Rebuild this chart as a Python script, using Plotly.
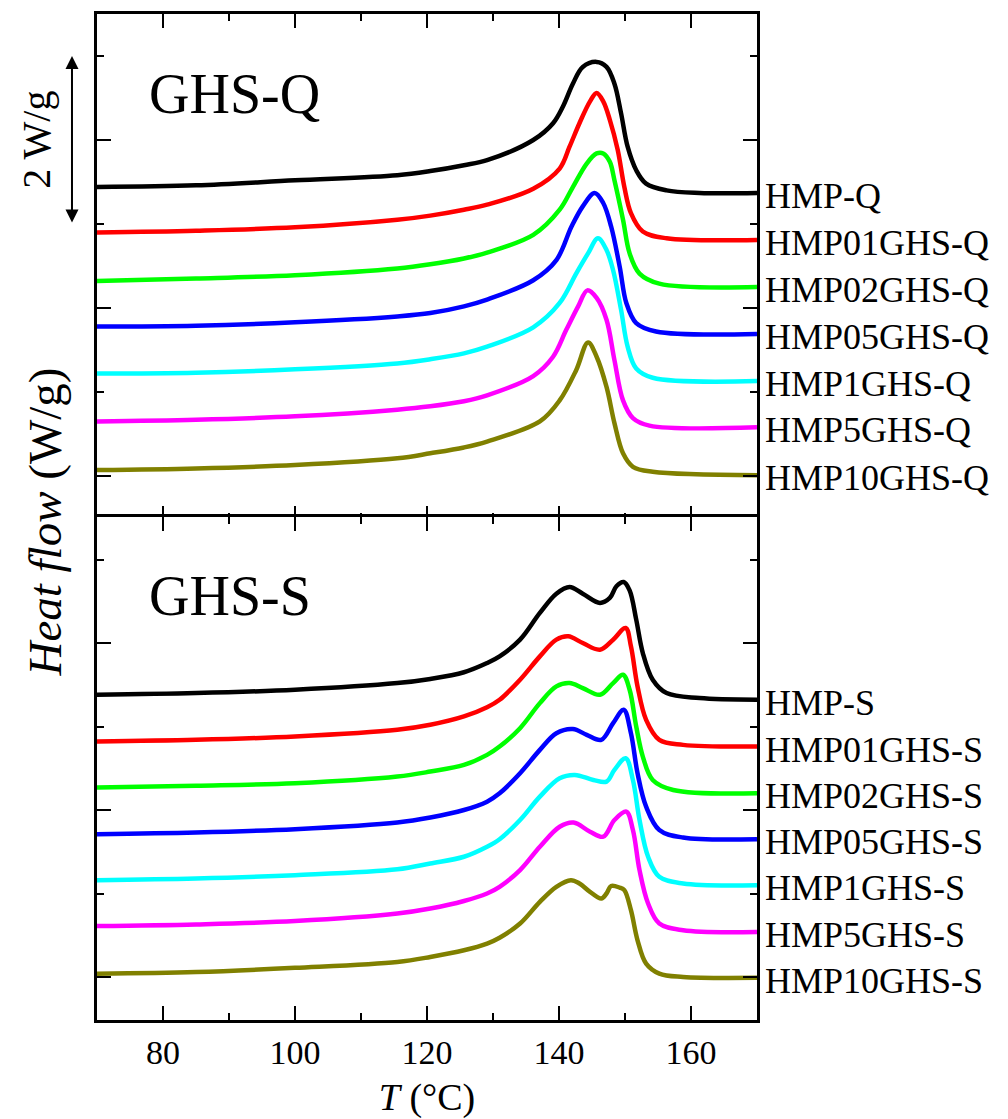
import plotly.graph_objects as go

FONT = "Liberation Serif"

# ---------------- data (heat flow, W/g, offset curves as plotted) ----------------
q_names = ["HMP-Q", "HMP01GHS-Q", "HMP02GHS-Q", "HMP05GHS-Q", "HMP1GHS-Q", "HMP5GHS-Q", "HMP10GHS-Q"]
s_names = ["HMP-S", "HMP01GHS-S", "HMP02GHS-S", "HMP05GHS-S", "HMP1GHS-S", "HMP5GHS-S", "HMP10GHS-S"]
colors = ["#000000", "#FF0000", "#00FF00", "#0000FF", "#00FFFF", "#FF00FF", "#808000"]

# GHS-Q panel
q0_T = [70, 85, 100, 115.5, 120.5, 125.6, 129.1, 136.1, 139.1, 140.6, 142.1, 143.6, 145.7, 147.2, 148.4, 149.4, 150.4, 151.7, 153.2, 156.3, 161.3, 170]
q0_V = [3.44, 3.46, 3.52, 3.58, 3.63, 3.70, 3.76, 4.00, 4.20, 4.40, 4.67, 4.87, 4.93, 4.87, 4.67, 4.32, 3.92, 3.64, 3.48, 3.40, 3.37, 3.37]
q1_T = [70, 85, 100, 115.5, 120.5, 125.6, 129.1, 136.1, 140.1, 141.6, 143.1, 144.7, 145.7, 146.7, 147.7, 148.9, 149.9, 150.9, 152.7, 156.3, 170]
q1_V = [2.90, 2.92, 2.96, 3.05, 3.10, 3.17, 3.23, 3.42, 3.66, 3.92, 4.20, 4.46, 4.56, 4.46, 4.24, 3.88, 3.44, 3.13, 2.91, 2.83, 2.81]
q2_T = [70, 85, 100, 115.5, 120.5, 125.6, 129.1, 136.1, 140.1, 142.1, 144.2, 145.7, 146.7, 147.7, 148.4, 149.7, 150.7, 152.2, 155.2, 170]
q2_V = [2.32, 2.35, 2.39, 2.47, 2.52, 2.59, 2.66, 2.87, 3.17, 3.44, 3.72, 3.84, 3.84, 3.74, 3.52, 3.05, 2.65, 2.41, 2.29, 2.25]
q3_T = [70, 85, 100, 115.5, 120.5, 125.6, 129.1, 136.1, 139.6, 141.9, 143.6, 145.4, 146.7, 147.9, 149.2, 150.2, 151.7, 154.7, 170]
q3_V = [1.78, 1.79, 1.83, 1.90, 1.94, 2.02, 2.10, 2.33, 2.57, 2.97, 3.21, 3.37, 3.25, 2.97, 2.49, 2.06, 1.82, 1.72, 1.69]
q4_T = [70, 85, 100, 115.5, 120.5, 125.6, 129.1, 136.1, 140.1, 142.6, 144.4, 145.9, 147.2, 148.2, 149.4, 150.4, 151.7, 154.2, 170]
q4_V = [1.22, 1.23, 1.27, 1.34, 1.39, 1.46, 1.54, 1.77, 2.06, 2.41, 2.65, 2.83, 2.69, 2.45, 1.98, 1.54, 1.28, 1.17, 1.13]
q5_T = [70, 85, 100, 115.5, 120.5, 125.6, 129.1, 136.1, 139.1, 141.1, 142.9, 144.3, 145.7, 147.2, 148.4, 149.7, 151.2, 153.7, 170]
q5_V = [0.65, 0.67, 0.71, 0.79, 0.83, 0.89, 0.96, 1.19, 1.42, 1.74, 2.02, 2.21, 2.12, 1.86, 1.38, 0.90, 0.69, 0.60, 0.58]
q6_T = [70, 85, 100, 115.5, 120.5, 125.6, 129.1, 137.1, 140.1, 142.6, 144.4, 145.7, 147.2, 148.4, 149.7, 151.2, 154.2, 170]
q6_V = [0.07, 0.09, 0.13, 0.21, 0.27, 0.34, 0.41, 0.65, 0.90, 1.26, 1.59, 1.42, 1.06, 0.63, 0.27, 0.11, 0.05, 0.01]

# GHS-S panel
s0_T = [70, 85, 100, 115.5, 120.5, 125.6, 129.1, 131.0, 134.1, 137.1, 139.6, 141.6, 143.6, 146.2, 147.7, 148.7, 149.8, 150.7, 151.7, 152.7, 154.2, 156.3, 161.3, 170]
s0_V = [3.38, 3.40, 3.44, 3.52, 3.57, 3.65, 3.76, 3.84, 4.04, 4.36, 4.59, 4.67, 4.59, 4.48, 4.54, 4.68, 4.73, 4.63, 4.28, 3.88, 3.56, 3.40, 3.34, 3.32]
s1_T = [70, 85, 100, 115.5, 120.5, 125.6, 129.1, 131.0, 134.1, 137.1, 139.6, 141.4, 143.6, 146.2, 148.2, 150.1, 150.9, 151.9, 153.2, 155.2, 158.8, 170]
s1_V = [2.82, 2.84, 2.88, 2.96, 3.02, 3.12, 3.23, 3.32, 3.56, 3.84, 4.04, 4.08, 4.00, 3.92, 4.04, 4.18, 3.96, 3.48, 3.08, 2.84, 2.78, 2.76]
s2_T = [70, 85, 100, 115.5, 120.5, 125.6, 129.1, 131.0, 134.1, 137.1, 139.6, 141.6, 143.6, 146.2, 148.2, 149.7, 150.7, 151.7, 152.7, 154.2, 157.3, 170]
s2_V = [2.27, 2.29, 2.32, 2.40, 2.46, 2.54, 2.66, 2.76, 2.98, 3.28, 3.48, 3.52, 3.46, 3.38, 3.52, 3.62, 3.44, 3.00, 2.64, 2.36, 2.24, 2.20]
s3_T = [70, 85, 100, 115.5, 120.5, 125.6, 129.1, 131.0, 134.1, 137.1, 139.6, 142.1, 144.2, 146.4, 148.2, 149.8, 150.9, 151.9, 153.2, 155.2, 158.8, 170]
s3_V = [1.71, 1.73, 1.77, 1.85, 1.91, 2.00, 2.10, 2.20, 2.44, 2.72, 2.92, 2.97, 2.90, 2.84, 3.04, 3.20, 2.92, 2.44, 2.04, 1.76, 1.67, 1.65]
s4_T = [70, 85, 100, 115.5, 120.5, 125.6, 129.1, 131.0, 134.1, 137.1, 140.1, 142.4, 145.2, 147.2, 148.4, 150.1, 151.2, 152.2, 153.5, 155.2, 158.8, 170]
s4_V = [1.16, 1.18, 1.22, 1.29, 1.36, 1.44, 1.56, 1.65, 1.88, 2.16, 2.38, 2.42, 2.36, 2.34, 2.48, 2.62, 2.36, 1.88, 1.44, 1.20, 1.12, 1.10]
s5_T = [70, 85, 100, 115.5, 120.5, 125.6, 129.1, 131.0, 134.1, 137.1, 140.1, 142.2, 144.7, 146.7, 148.4, 150.2, 151.2, 152.2, 153.5, 155.2, 158.8, 170]
s5_V = [0.61, 0.63, 0.67, 0.76, 0.82, 0.91, 1.00, 1.08, 1.28, 1.56, 1.80, 1.85, 1.74, 1.68, 1.88, 1.98, 1.76, 1.28, 0.88, 0.64, 0.56, 0.54]
s6_T = [70, 85, 100, 115.5, 120.5, 125.6, 129.1, 131.0, 134.1, 137.1, 139.6, 141.8, 143.1, 144.7, 146.4, 147.2, 147.9, 149.2, 149.9, 150.9, 151.9, 153.2, 155.2, 158.8, 170]
s6_V = [0.04, 0.06, 0.11, 0.18, 0.24, 0.32, 0.40, 0.47, 0.64, 0.90, 1.08, 1.16, 1.12, 1.02, 0.94, 1.00, 1.09, 1.07, 1.04, 0.80, 0.44, 0.16, 0.04, 0.00, -0.01]

q_T = [q0_T, q1_T, q2_T, q3_T, q4_T, q5_T, q6_T]
q_V = [q0_V, q1_V, q2_V, q3_V, q4_V, q5_V, q6_V]
s_T = [s0_T, s1_T, s2_T, s3_T, s4_T, s5_T, s6_T]
s_V = [s0_V, s1_V, s2_V, s3_V, s4_V, s5_V, s6_V]

x_ticks = [80, 100, 120, 140, 160]

# ---------------- figure ----------------
fig = go.Figure()
annotations = []

for Ts, Vs, names, xa, ya in [(q_T, q_V, q_names, "x", "y"), (s_T, s_V, s_names, "x2", "y2")]:
    for T, V, name, c in zip(Ts, Vs, names, colors):
        fig.add_trace(go.Scatter(x=T, y=V, mode="lines", name=name, xaxis=xa, yaxis=ya,
                                 line=dict(color=c, width=4.5, shape="spline", smoothing=1.0),
                                 showlegend=False, hoverinfo="skip"))
        annotations.append(dict(x=1, xref="paper", xanchor="left", xshift=6,
                                y=V[-1], yref=ya, yanchor="middle", yshift=-3,
                                text=name, showarrow=False,
                                font=dict(family=FONT, size=36, color="black")))

annotations += [
    dict(x=0.0758, xref="paper", xanchor="left", y=0.9205, yref="paper", yanchor="middle",
         text="GHS-Q", showarrow=False, font=dict(family=FONT, size=56, color="black")),
    dict(x=0.0758, xref="paper", xanchor="left", y=0.4215, yref="paper", yanchor="middle",
         text="GHS-S", showarrow=False, font=dict(family=FONT, size=56, color="black")),
    dict(x=-0.078, xref="paper", xanchor="center", y=0.495, yref="paper", yanchor="middle",
         text="<i>Heat flow</i> (W/g)", textangle=-90, showarrow=False,
         font=dict(family=FONT, size=47, color="black")),
    dict(x=-0.091, xref="paper", xanchor="center", y=0.875, yref="paper", yanchor="middle",
         text="2 W/g", textangle=-90, showarrow=False,
         font=dict(family=FONT, size=40, color="black")),
    dict(x=-0.0379, xref="paper", y=5, yref="y", ax=0, axref="pixel",
         ay=3, ayref="y", text="", showarrow=True, arrowside="end+start",
         arrowhead=2, arrowsize=1.3, arrowwidth=2, arrowcolor="black", standoff=0, startstandoff=0),
]

common_x = dict(range=[70, 170], showgrid=False, zeroline=False, showline=True, linewidth=2.5,
                linecolor="black", mirror="ticks", ticks="inside", ticklen=14, tickwidth=2,
                tickcolor="black", tickvals=x_ticks, automargin=False,
                minor=dict(ticks="inside", ticklen=7, tickwidth=2, tickcolor="black", dtick=10, tick0=70),
                tickfont=dict(family=FONT, size=34, color="black"))
common_y = dict(showgrid=False, zeroline=False, showline=True, linewidth=2.5, linecolor="black",
                mirror="ticks", ticks="inside", ticklen=14, tickwidth=2, tickcolor="black",
                tick0=0, dtick=2, showticklabels=False, automargin=False,
                minor=dict(ticks="inside", ticklen=7, tickwidth=2, tickcolor="black", dtick=1, tick0=0))

fig.update_layout(
    width=1008, height=1119,
    margin=dict(l=97, r=251, t=14, b=99),
    paper_bgcolor="white", plot_bgcolor="white",
    font=dict(family=FONT, color="black"),
    xaxis=dict(common_x, domain=[0, 1], anchor="y", showticklabels=False),
    yaxis=dict(common_y, domain=[0.4975, 1], anchor="x", range=[-0.518, 5.5]),
    xaxis2=dict(common_x, domain=[0, 1], anchor="y2", showticklabels=True,
                title=dict(text="<i>T</i> (°C)", font=dict(family=FONT, size=38, color="black"), standoff=17)),
    yaxis2=dict(common_y, domain=[0, 0.5], anchor="x2", range=[-0.515, 5.509]),
    annotations=annotations,
)

fig.write_html("out.html")
